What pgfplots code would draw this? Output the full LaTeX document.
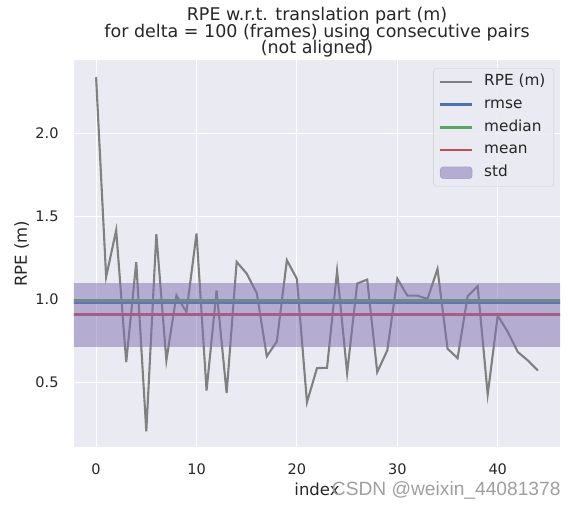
\documentclass[border=0pt]{standalone}
\usepackage{fontspec}
\setmainfont{DejaVu Sans}
\newfontfamily\wmfont{Liberation Sans}
\usepackage{pgfplots}
\pgfplotsset{compat=1.18}
\definecolor{bgc}{HTML}{EAEAF2}
\definecolor{txt}{HTML}{262626}
\definecolor{rmsec}{HTML}{4C72B0}
\definecolor{medc}{HTML}{55A868}
\definecolor{meanc}{HTML}{C44E52}
\definecolor{stdc}{HTML}{8172B2}
\definecolor{legedge}{HTML}{CCCCCC}
\newcommand\titlefont{\fontsize{17.5}{16.9}\selectfont\lineskiplimit=-20pt\relax}
\begin{document}
\begin{tikzpicture}
\begin{axis}[
  scale only axis,
  width=486pt, height=387.5pt,
  xmin=-2.2, xmax=46.2, ymin=0.106, ymax=2.444,
  axis background/.style={fill=bgc},
  axis line style={draw=none},
  major tick length=0pt,
  xtick={0,10,20,30,40},
  ytick={0.5,1.0,1.5,2.0},
  yticklabel style={/pgf/number format/.cd, fixed, fixed zerofill, precision=1, /tikz/.cd},
  /pgf/number format/assume math mode=true,
  grid=major,
  major grid style={white, line width=1.1pt},
  tick label style={font=\fontsize{14.5}{14.5}\selectfont, text=txt, inner sep=0pt},
  yticklabel style={xshift=-15.3pt},
  xticklabel style={yshift=-15.8pt},
  xlabel={index},
  ylabel={RPE (m)},
  label style={font=\fontsize{16.5}{16.5}\selectfont, text=txt},
  xlabel style={at={(axis description cs:0.5,-0.109)}, anchor=center},
  ylabel style={at={(axis description cs:-0.1076,0.5)}, anchor=center},
  title={RPE w.r.t. translation part (m)\\for delta = 100 (frames) using consecutive pairs\\(not aligned)},
  title style={at={(axis description cs:0.5,1)}, anchor=south, yshift=-3.8pt, align=center, inner sep=0pt,
    font=\titlefont, text=txt},
  legend cell align=left,
  legend style={at={(0.9877,0.9786)}, anchor=north east, fill=bgc, fill opacity=0.8, text opacity=1, draw=legedge, rounded corners=3pt,
    font=\fontsize{15.3}{15.3}\selectfont, text=txt, inner xsep=5.4pt, inner ysep=2.15pt, row sep=0pt, column sep=7.7pt,
    nodes={inner xsep=3pt, inner ysep=4.1pt, text height=11pt, text depth=3.5pt}},
  legend image code/.code={\draw[#1] (0pt,0pt) -- (32pt,0pt);},
]
\addplot[color=gray, line width=2.1pt] coordinates {
(0,2.34) (1,1.135) (2,1.417) (3,0.621) (4,1.224) (5,0.204) (6,1.393) (7,0.631)
(8,1.024) (9,0.923) (10,1.397) (11,0.45) (12,1.054) (13,0.434) (14,1.226) (15,1.155)
(16,1.038) (17,0.656) (18,0.746) (19,1.236) (20,1.123) (21,0.379) (22,0.585) (23,0.587)
(24,1.171) (25,0.555) (26,1.095) (27,1.119) (28,0.561) (29,0.692) (30,1.125) (31,1.022)
(32,1.022) (33,1.002) (34,1.183) (35,0.702) (36,0.645) (37,1.018) (38,1.079) (39,0.426)
(40,0.903) (41,0.803) (42,0.682) (43,0.631) (44,0.571)
};
\addlegendentry{RPE (m)}
\addplot[color=rmsec, line width=2.5pt] coordinates {(-3,0.978) (47,0.978)};
\addlegendentry{rmse}
\addplot[color=medc, line width=2.5pt] coordinates {(-3,0.994) (47,0.994)};
\addlegendentry{median}
\addplot[color=meanc, line width=2.5pt] coordinates {(-3,0.909) (47,0.909)};
\addlegendentry{mean}
\addplot[fill=stdc, fill opacity=0.5, draw=stdc, draw opacity=0.5, line width=0.5pt,
  legend image code/.code={\fill[stdc, fill opacity=0.5] (0pt,-5.8pt) rectangle (32pt,5.8pt);}]
  coordinates {(-3,0.718) (47,0.718) (47,1.095) (-3,1.095)} -- cycle;
\addlegendentry{std}
\end{axis}
\node[text=gray!75, font=\wmfont\fontsize{19.2}{19.2}\selectfont, anchor=base west, inner sep=0pt] at (257.7pt,-48.2pt) {CSDN @weixin\_44081378};
\pgfresetboundingbox
\useasboundingbox (-74pt,-57.5pt) rectangle (504pt,447.5pt);
\end{tikzpicture}
\end{document}
